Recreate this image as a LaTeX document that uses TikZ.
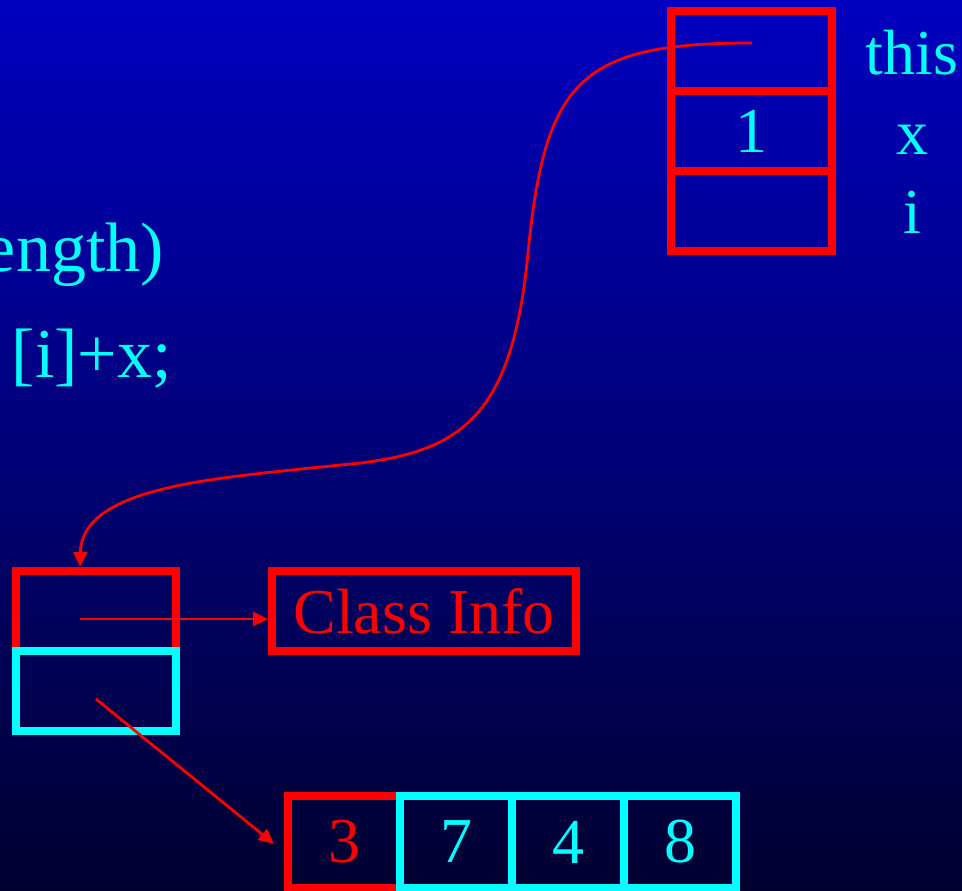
\documentclass[tikz,border=0pt]{standalone}
\usepackage{fontspec}
\setmainfont{Liberation Serif}
\usetikzlibrary{arrows.meta,calc}
\definecolor{bgtop}{RGB}{0,0,192}
\definecolor{bgbot}{RGB}{0,0,48}
\definecolor{cy}{RGB}{0,255,255}
\definecolor{rd}{RGB}{255,0,0}
\begin{document}
\begin{tikzpicture}[x=1pt,y=-1pt,
  cell/.style={draw=rd, line width=8pt, minimum width=161pt, minimum height=80pt,
    inner sep=0pt, text=cy, font=\fontsize{64}{64}\selectfont},
  cycell/.style={cell, draw=cy},
  lbl/.style={text=cy, inner sep=0pt, font=\fontsize{64}{64}\selectfont},
  code/.style={text=cy, inner sep=0pt, font=\fontsize{70}{70}\selectfont},
  ptr/.style={draw=rd, line width=2.8pt, -{Triangle[length=15pt,width=14pt]}}
]
\clip (0,0) rectangle (962,891);
\shade[top color=bgtop, bottom color=bgbot] (0,0) rectangle (962,891);

% code fragments (cut off at the left edge)
\node[code, anchor=base east] (code1) at (164,271) {ength)};
\node[code, anchor=base east] (code2) at (172,377) {{[}i]+x;};

% stack frame
\node[cell] (thiscell) at (751.5,51) {};
\node[cell] (xcell) at (751.5,131) {1};
\node[cell] (icell) at (751.5,211) {};
\node[lbl, anchor=base] (thislbl) at (912,75) {this};
\node[lbl, anchor=base] (xlbl) at (912,154) {x};
\node[lbl, anchor=base] (ilbl) at (912,233) {i};

% object
\node[cell, minimum width=160pt] (hdr) at (96,611) {};
\node[cycell, minimum width=160pt] (dat) at (96,691) {};
\node[cell, minimum width=304pt, text=rd] (cls) at (424,611) {Class Info};

% array
\node[cell, minimum width=112pt, minimum height=92pt, text=rd] (a1) at (344,842) {3};
\node[cycell, minimum width=112pt, minimum height=92pt] (a2) at (456,842) {7};
\node[cycell, minimum width=112pt, minimum height=92pt] (a3) at (568,842) {4};
\node[cycell, minimum width=112pt, minimum height=92pt] (a4) at (680,842) {8};

% pointer origins
\coordinate (thisptr) at (752,43);
\coordinate (clsptr) at (80,619);
\coordinate (datptr) at (96,699);

% connectors
\draw[ptr] (thisptr) .. controls (580,43) and (545,80) .. (528,253)
  .. controls (512,420) and (460,455) .. (340,465)
  .. controls (220,478) and (82,485) .. (hdr.north -| clsptr);
\draw[ptr] (clsptr) -- (cls.west |- clsptr);
\draw[ptr, shorten >=13pt] (datptr) -- ($(a1.west)+(0,10)$);
\end{tikzpicture}
\end{document}
